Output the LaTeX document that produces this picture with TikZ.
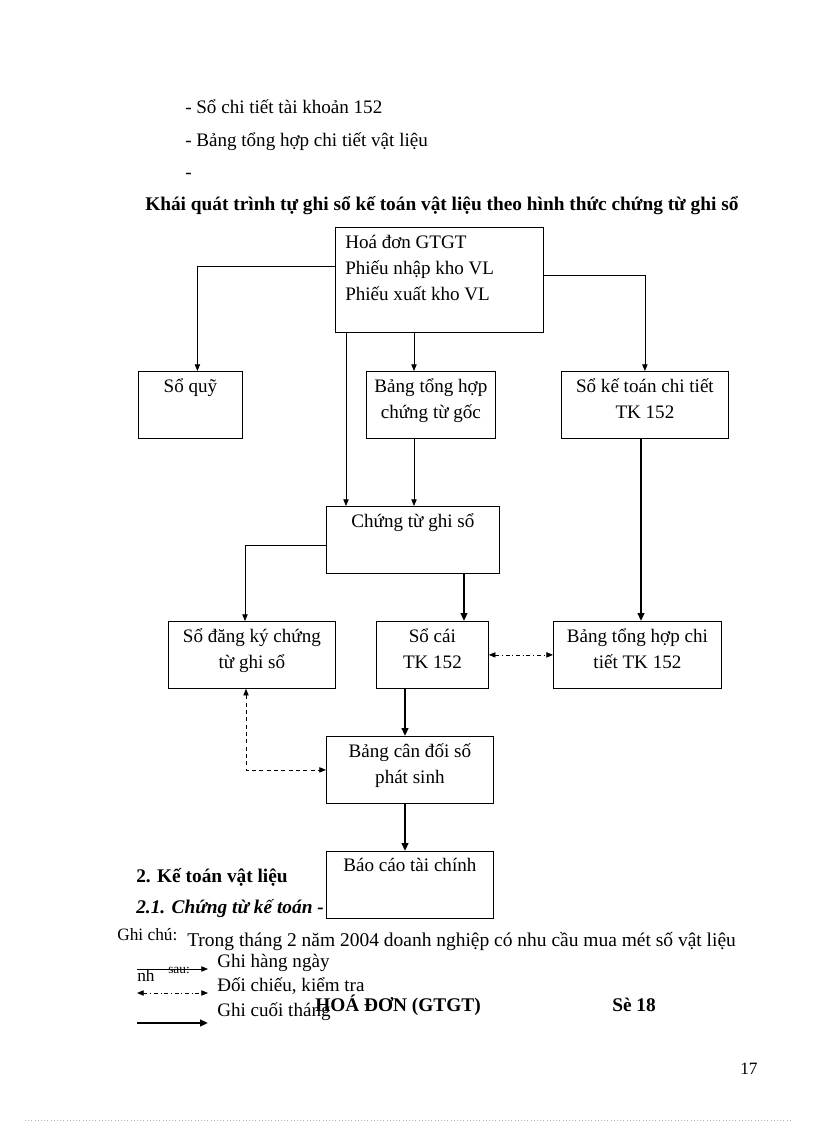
\documentclass[tikz,border=0pt]{standalone}
\usepackage{fontspec}
\setmainfont{Liberation Serif}
\usetikzlibrary{arrows.meta, positioning, calc}

\begin{document}
\begin{tikzpicture}[x=0.75pt, y=-0.75pt,
  font=\fontsize{14.3}{19.5}\selectfont,
  box/.style 2 args={draw, line width=0.6pt, fill=white, anchor=north west, inner sep=0pt,
    minimum width=#1*0.75pt, minimum height=#2*0.75pt},
  lbl/.style={anchor=north, align=center, yshift=-3.5pt, inner sep=2pt},
  txt/.style={anchor=base west, inner sep=0pt},
  bold/.style={font=\fontsize{14.5}{16}\selectfont\bfseries},
  boldit/.style={font=\fontsize{14.5}{16}\selectfont\bfseries\itshape},
  flow/.style={line width=0.6pt, -{Triangle[length=5pt, width=4pt]}},
  flowthick/.style={line width=1.8pt, -{Triangle[length=6pt, width=5pt]}},
  check/.style={line width=0.6pt, dash pattern=on 3pt off 2pt on 0.8pt off 2pt,
    {Triangle[length=5pt, width=4pt]}-{Triangle[length=5pt, width=4pt]}},
  dashflow/.style={line width=0.6pt, dash pattern=on 3pt off 2.5pt,
    {Triangle[length=5pt, width=4pt]}-{Triangle[length=5pt, width=4pt]}}]
  \useasboundingbox (0,0) rectangle (816,1123);

  % text of the page
  \node[txt] (l1) at (185,114) {- Sổ chi tiết tài khoản 152};
  \node[txt] (l2) at (185,147) {- Bảng tổng hợp chi tiết vật liệu};
  \node[txt] (l3) at (185,179) {-};
  \node[txt, bold] (title) at (145,211)
    {Khái quát trình tự ghi sổ kế toán vật liệu theo hình thức chứng từ ghi sổ};
  \node[txt, bold] (sec2) at (136,882) {2. Kế toán vật liệu};
  \node[txt, boldit] (sec21) at (136,913) {2.1. Chứng từ kế toán - };

  % boxes
  \node[box={208}{105}] (hoadon) at (335,227) {};
  \node[anchor=north west, align=left, inner sep=0pt] (hoadontxt) at (345,235)
    {Hoá đơn GTGT\\Phiếu nhập kho VL\\Phiếu xuất kho VL};
  \node[box={104}{67}, label={[lbl]north:Sổ quỹ}] (quy) at (138,371) {};
  \node[box={129}{67}, label={[lbl]north:Bảng tổng hợp\\chứng từ gốc}] (bangth) at (366,371) {};
  \node[box={167}{67}, label={[lbl]north:Sổ kế toán chi tiết\\TK 152}] (soktct) at (561,371) {};
  \node[box={173}{67}, label={[lbl]north:Chứng từ ghi sổ}] (ctgs) at (326,506) {};
  \node[box={167}{67}, label={[lbl]north:Sổ đăng ký chứng\\từ ghi sổ}] (sodk) at (168,621) {};
  \node[box={112}{67}, label={[lbl]north:Sổ cái\\TK 152}] (socai) at (376,621) {};
  \node[box={168}{67}, label={[lbl]north:Bảng tổng hợp chi\\tiết TK 152}] (bthct) at (553,621) {};
  \node[box={167}{67}, label={[lbl]north:Bảng cân đối số\\phát sinh}] (bcd) at (326,736) {};
  \node[box={167}{67}, label={[lbl]north:Báo cáo tài chính}] (bctc) at (326,851) {};

  % connectors
  \draw[flow] (hoadon.west |- 0,266) -| ($(quy.north)+(7,0)$);
  \draw[flow] (hoadon.east |- 0,275) -| (soktct.north);
  \draw[flow] (hoadon.south -| 414,0) -- (bangth.north -| 414,0);
  \draw[flow] (hoadon.south -| 346,0) -- (ctgs.north -| 346,0);
  \draw[flow] (bangth.south -| 414,0) -- (ctgs.north -| 414,0);
  \draw[flowthick] (soktct.south -| 641,0) -- (bthct.north -| 641,0);
  \draw[flow] (ctgs.west |- 0,545) -| (sodk.north -| 245,0);
  \draw[flowthick] (ctgs.south -| 464,0) -- (socai.north -| 464,0);
  \draw[check] (socai.east) -- (bthct.west);
  \draw[flowthick] (socai.south -| 405,0) -- (bcd.north -| 405,0);
  \draw[dashflow] (sodk.south -| 246,0) |- (bcd.west);
  \draw[flowthick] (bcd.south -| 405,0) -- (bctc.north -| 405,0);

  % legend
  \node[txt, font=\fontsize{13}{15}\selectfont] (ghichu) at (117,940) {Ghi chú:};
  \node[txt, font=\fontsize{14.6}{16}\selectfont] (trong) at (187,946) {Trong tháng 2 năm 2004 doanh nghiệp có nhu cầu mua mét số vật liệu};
  \node[txt] (hangngay) at (217,967) {Ghi hàng ngày};
  \node[txt, font=\fontsize{13}{15}\selectfont] (nh) at (137,981) {nh};
  \node[txt, font=\fontsize{10}{12}\selectfont] (sau) at (168,973) {sau:};
  \node[txt] (doichieu) at (217,991) {Đối chiếu, kiểm tra};
  \node[txt] (cuoithang) at (217,1016) {Ghi cuối tháng};
  \node[txt, bold] (hdgtgt) at (315,1011) {HOÁ ĐƠN (GTGT)};
  \node[txt, bold] (so18) at (612,1011) {Sè 18};
  \coordinate (d1a) at (137,969); \coordinate (d1b) at (208,969);
  \coordinate (d2a) at (137,993); \coordinate (d2b) at (208,993);
  \coordinate (d3a) at (137,1023); \coordinate (d3b) at (208,1023);
  \draw[flow] (d1a) -- (d1b);
  \draw[check] (d2a) -- (d2b);
  \draw[flowthick] (d3a) -- (d3b);

  % page number and page edge
  \node[txt, font=\fontsize{13}{15}\selectfont] (pagenum) at (740,1074) {17};
  \coordinate (edgea) at (25,1120); \coordinate (edgeb) at (792,1120);
  \draw[gray!60, line width=0.4pt, dotted] (edgea) -- (edgeb);
\end{tikzpicture}
\end{document}
